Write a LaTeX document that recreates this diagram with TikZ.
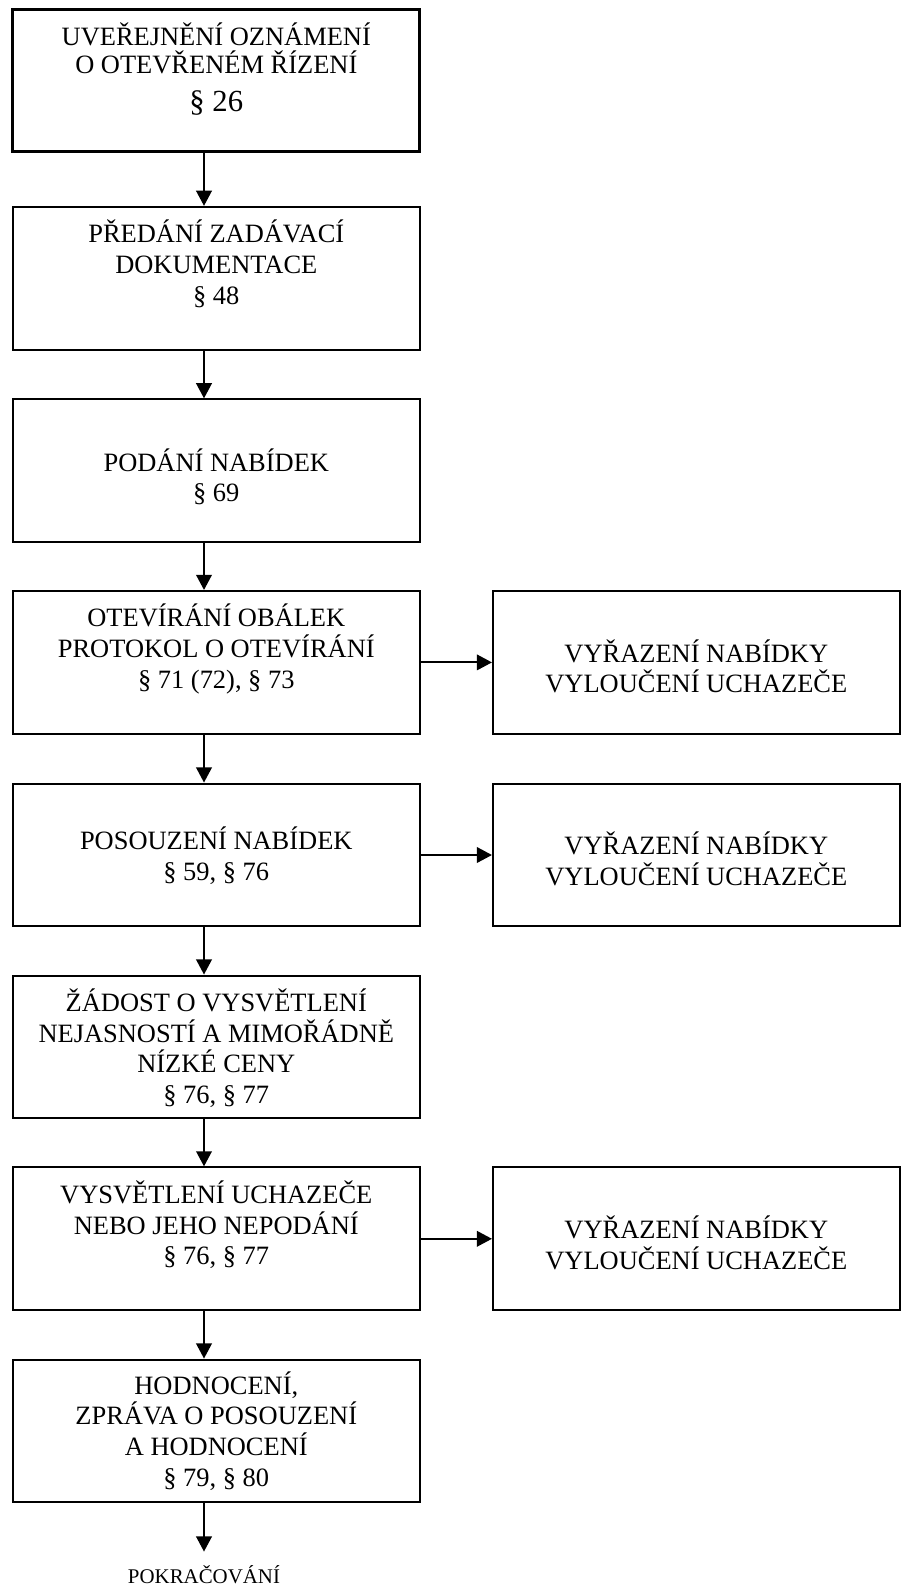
\documentclass[tikz,border=0pt]{standalone}
\usepackage{fontspec}
\setmainfont{Liberation Serif}
\usetikzlibrary{arrows.meta}
\newcommand{\stagetext}[2][16.2pt]{\parbox[c][64.3pt][t]{183pt}{\fontsize{11.9pt}{13.8pt}\selectfont\lineskiplimit=-20pt\centering\rule{0pt}{#1}#2}}
\begin{document}
\begin{tikzpicture}[x=0.45pt,y=-0.45pt,
    stage/.style={draw,line width=0.9pt,inner sep=0pt},
    arr/.style={line width=0.9pt,-{Triangle[length=6.8pt,width=7pt]}}]
    \useasboundingbox (0,0) rectangle (906,1585);
    \coordinate (axis) at (204,0);
    \node[stage,line width=1.35pt] (b1) at (216.3,80.5) {\stagetext{UVEŘEJNĚNÍ OZNÁMENÍ\\[-0.8pt] O OTEVŘENÉM ŘÍZENÍ\\[3.3pt] {\fontsize{13.8pt}{13.8pt}\selectfont § 26}}};
    \node[stage] (b2) at (216.3,278.3) {\stagetext{PŘEDÁNÍ ZADÁVACÍ\\ DOKUMENTACE\\ § 48}};
    \node[stage] (b3) at (216.3,470.8) {\stagetext[32.3pt]{PODÁNÍ NABÍDEK\\ § 69}};
    \node[stage] (b4) at (216.3,662.4) {\stagetext{OTEVÍRÁNÍ OBÁLEK\\ PROTOKOL O OTEVÍRÁNÍ\\ § 71 (72), § 73}};
    \node[stage] (b5) at (216.3,855) {\stagetext[29.7pt]{POSOUZENÍ NABÍDEK\\ § 59, § 76}};
    \node[stage] (b6) at (216.3,1047) {\stagetext{ŽÁDOST O VYSVĚTLENÍ\\ NEJASNOSTÍ A MIMOŘÁDNĚ\\ NÍZKÉ CENY\\ § 76, § 77}};
    \node[stage] (b7) at (216.3,1238.8) {\stagetext{VYSVĚTLENÍ UCHAZEČE\\ NEBO JEHO NEPODÁNÍ\\ § 76, § 77}};
    \node[stage] (b8) at (216.3,1431) {\stagetext[15.6pt]{HODNOCENÍ,\\ ZPRÁVA O POSOUZENÍ\\ A HODNOCENÍ\\ § 79, § 80}};
    \node[stage] (r1) at (696.3,662.4) {\stagetext[32pt]{VYŘAZENÍ NABÍDKY\\ VYLOUČENÍ UCHAZEČE}};
    \node[stage] (r2) at (696.3,855) {\stagetext[32pt]{VYŘAZENÍ NABÍDKY\\ VYLOUČENÍ UCHAZEČE}};
    \node[stage] (r3) at (696.3,1238.8) {\stagetext[32pt]{VYŘAZENÍ NABÍDKY\\ VYLOUČENÍ UCHAZEČE}};
    \node[anchor=base,inner sep=0pt,font=\fontsize{9.4pt}{12pt}\selectfont] (pokr) at (204,1583.3) {POKRAČOVÁNÍ};
    \foreach \a/\b in {b1/b2,b2/b3,b3/b4,b4/b5,b5/b6,b6/b7,b7/b8}
      \draw[arr] (\a.south -| axis) -- (\b.north -| axis);
    \foreach \a/\b in {b4/r1,b5/r2,b7/r3}
      \draw[arr] (\a.east) -- (\b.west);
    \draw[arr,shorten >=6pt] (b8.south -| axis) -- (pokr.north);
  \end{tikzpicture}
\end{document}
